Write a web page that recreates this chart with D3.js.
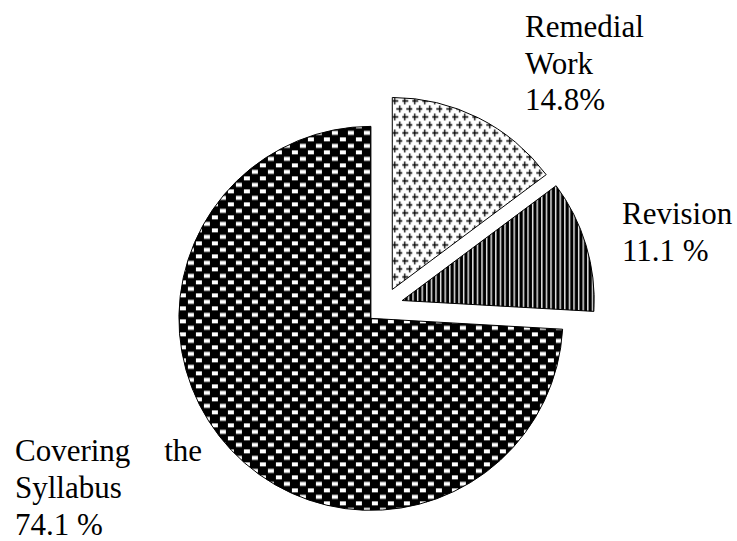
<!DOCTYPE html>
<html>
<head>
<meta charset="utf-8">
<script src="https://cdn.jsdelivr.net/npm/d3@7"></script>
<style>
  body { margin: 0; background: #fff; }
</style>
</head>
<body>
<div id="chart"></div>
<script>
// slice data, clockwise from 12 o'clock
const categories = ["Remedial Work", "Revision", "Covering the Syllabus"];
const values = [14.8, 11.1, 74.1];
const valueLabels = ["14.8%", "11.1 %", "74.1 %"];
const fills = ["url(#cross)", "url(#stripes)", "url(#brick)"];

const width = 737, height = 541;
const cx = 384, cy = 306, radius = 192;
const explode = [18.5, 19, 18]; // how far each slice is pulled out

const svg = d3.select("#chart").append("svg")
    .attr("width", width)
    .attr("height", height);

// hatch patterns like the old office fills
const defs = svg.append("defs");

let cross = defs.append("pattern")
    .attr("id", "cross")
    .attr("patternUnits", "userSpaceOnUse")
    .attr("width", 10).attr("height", 16);
cross.append("rect").attr("width", 10).attr("height", 16).attr("fill", "#fff");
[[2.5, 3.5], [7.5, 11.5]].forEach(function(p) {
    cross.append("path")
        .attr("d", "M" + (p[0] - 3.5) + "," + p[1] + "h7M" + p[0] + "," + (p[1] - 3.5) + "v7")
        .attr("stroke", "#000")
        .attr("stroke-width", 1.3);
});

let stripes = defs.append("pattern")
    .attr("id", "stripes")
    .attr("patternUnits", "userSpaceOnUse")
    .attr("width", 4.6).attr("height", 10);
stripes.append("rect").attr("width", 4.6).attr("height", 10).attr("fill", "#000");
stripes.append("rect").attr("x", 1).attr("width", 1.3).attr("height", 10).attr("fill", "#fff");

let brick = defs.append("pattern")
    .attr("id", "brick")
    .attr("patternUnits", "userSpaceOnUse")
    .attr("width", 16).attr("height", 13);
brick.append("rect").attr("width", 16).attr("height", 13).attr("fill", "#000");
brick.append("rect").attr("x", 1).attr("y", 1).attr("width", 6).attr("height", 4).attr("fill", "#fff");
brick.append("rect").attr("x", 9).attr("y", 7.5).attr("width", 6).attr("height", 4).attr("fill", "#fff");

const pie = d3.pie().sort(null).value(d => d);
const arc = d3.arc().innerRadius(0).outerRadius(radius);

const arcs = pie(values);

svg.append("g")
    .attr("transform", "translate(" + cx + "," + cy + ")")
    .selectAll("path")
    .data(arcs)
    .enter()
    .append("path")
    .attr("d", arc)
    .attr("fill", (d, i) => fills[i])
    .attr("stroke", "#000")
    .attr("stroke-width", 1)
    .attr("transform", function(d, i) {
        let mid = (d.startAngle + d.endAngle) / 2;
        return "translate(" + (Math.sin(mid) * explode[i]) + "," + (-Math.cos(mid) * explode[i]) + ")";
    });

// labels (lines split as in the original)
function label(lines, x, y0, step) {
    let t = svg.append("text")
        .attr("font-size", 31)
        .style("font-family", "'Liberation Serif'");
    lines.forEach(function(line, j) {
        t.append("tspan").attr("x", x).attr("y", y0 + j * step).text(line);
    });
    return t;
}

label(["Remedial", "Work", valueLabels[0]], 525, 37, 36.5);
label(["Revision", valueLabels[1]], 622, 224, 37);

label(["Covering", "Syllabus", valueLabels[2]], 15, 461, 37);
// "the" is pushed to the right margin (justified line)
label(["the"], 202, 461, 0).attr("text-anchor", "end");
</script>
</body>
</html>
